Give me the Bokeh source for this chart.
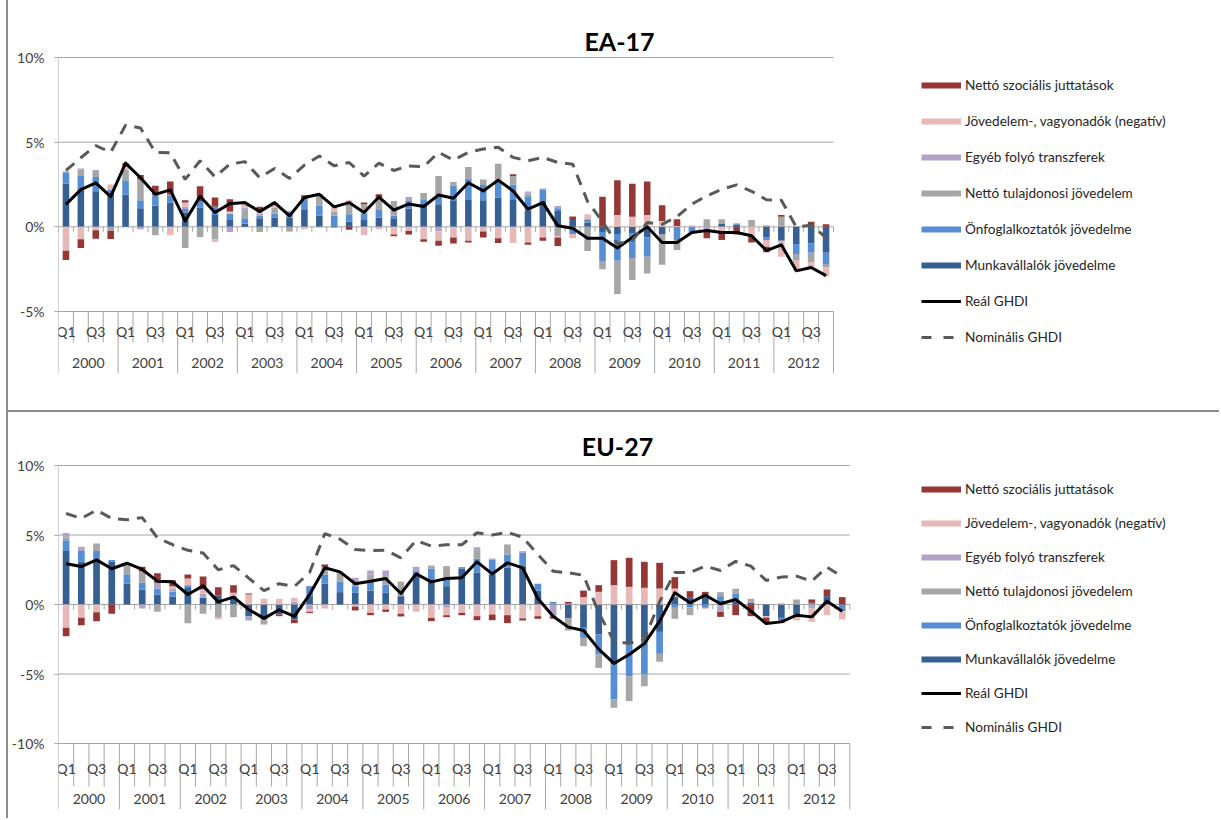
import numpy as np
from bokeh.plotting import figure
from bokeh.layouts import column
from bokeh.models import (ColumnDataSource, FixedTicker, Legend, LegendItem,
                          Label, Range1d)
from bokeh.core.properties import value
from bokeh.embed import file_html
from bokeh.resources import INLINE

# ---------------------------------------------------------------- data
years = [str(y) for y in range(2000, 2013)]
quarters = ["Q1", "Q2", "Q3", "Q4"]

component_names = [
    "Munkavállalók jövedelme",
    "Önfoglalkoztatók jövedelme",
    "Nettó tulajdonosi jövedelem",
    "Egyéb folyó transzferek",
    "Jövedelem-, vagyonadók (negatív)",
    "Nettó szociális juttatások",
]
component_colors = ["#376092", "#558ED5", "#A6A6A6", "#B3A2C7", "#E6B9B8", "#953735"]
real_name = "Reál GHDI"
nominal_name = "Nominális GHDI"

# EA-17, contributions in percentage points (2000Q1 .. 2012Q4)
ea_munkavallalok = [2.55, 2.2, 2.1, 2.0, 1.9, 1.1, 1.25, 1.43, 0.84, 1.12, 0.7, 0.41, 0.2,
                    0.5, 0.55, 0.55, 1.0, 0.65, 0.05, 0.3, 0.45, 0.55, 0.5, 1.08, 1.35, 1.33,
                    1.53, 1.63, 1.57, 1.72, 1.63, 0.98, 1.53, 0.94, 0.41, 0.25, -0.3, -0.43,
                    -0.4, -0.63, -0.43, 0.0, 0.0, 0.0, 0.2, 0.12, 0.0, -0.63, -0.82, -1.02,
                    -0.98, -1.53]
ea_onfoglalkoztatok = [0.68, 0.8, 0.85, 0.2, 0.85, 0.47, 0.57, 0.43, 0.22, 0.41, 0.5, 0.37,
                       0.3, 0.15, 0.23, 0.35, 0.63, 0.6, 0.6, 0.45, 0.33, 0.49, 0.15, 0.45,
                       0.28, 0.55, 0.9, 1.23, 0.9, 0.98, 0.87, 0.82, 0.65, 0.16, -0.43, 0.2,
                       -1.76, -1.57, -1.44, -1.13, 0.0, -0.78, -0.4, 0.0, 0.0, 0.08, 0.0,
                       -0.15, 0.0, -0.58, -0.55, -0.67]
ea_tulajdonosi = [0.0, 0.4, 0.35, -0.25, 0.55, 1.23, -0.5, 0.0, -1.25, -0.6, -0.75, 0.0,
                  0.54, -0.3, 0.36, -0.25, 0.0, 0.57, 0.25, 0.58, 0.55, 0.69, 0.88, 0.0,
                  0.37, 1.12, 0.22, 0.67, 0.33, 1.02, 0.5, 0.16, 0.0, -0.55, 0.0, -1.42,
                  -0.44, -1.96, -1.3, -0.99, -1.81, -0.59, 0.0, 0.45, 0.25, 0.0, 0.4, 0.1,
                  0.6, -0.4, -0.57, -0.2]
ea_egyeb = [0.05, 0.05, 0.05, 0.0, 0.05, -0.15, 0.05, 0.05, 0.12, 0.0, 0.0, -0.3, 0.1,
            0.13, 0.0, 0.05, 0.0, 0.0, -0.07, 0.0, 0.0, 0.0, 0.0, 0.23, 0.0, -0.27, 0.0,
            0.0, 0.0, 0.0, 0.0, 0.12, 0.09, 0.13, 0.0, 0.0, 0.0, 0.0, 0.0, 0.0, 0.0, 0.0,
            0.0, -0.25, 0.0, 0.0, 0.0, 0.0, 0.0, 0.0, 0.0, 0.0]
ea_adok = [-1.41, -0.73, -0.2, 0.3, 0.2, 0.0, 0.0, -0.5, 0.25, 0.0, -0.15, 0.12, 0.29,
           0.2, 0.29, -0.05, -0.15, -0.05, 0.35, 0.24, -0.5, -0.15, -0.45, -0.25, -0.73,
           -0.55, -0.63, -0.82, -0.27, -0.67, -0.96, -0.92, -0.63, -0.08, -0.24, 0.3, 0.0,
           0.7, 0.6, 0.7, 0.35, 0.05, 0.1, 0.0, -0.25, 0.0, -0.55, -0.4, -0.94, -0.6,
           -0.3, -0.54]
ea_szocialis = [-0.55, -0.52, -0.5, -0.47, 0.2, 0.26, 0.55, 0.77, 0.14, 0.87, 0.53, 0.73,
                0.0, 0.2, 0.0, 0.0, 0.23, 0.1, 0.0, -0.17, 0.1, 0.19, -0.1, -0.2, -0.15,
                -0.3, -0.35, -0.1, -0.36, -0.29, 0.1, -0.14, -0.19, -0.5, 0.2, 0.0, 1.77,
                2.05, 1.95, 1.97, 0.92, 0.4, 0.0, -0.42, -0.53, -0.45, -0.37, -0.32, 0.1,
                0.0, 0.3, 0.15]
ea_real = [1.33, 2.2, 2.6, 1.78, 3.76, 2.9, 1.92, 2.18, 0.35, 1.8, 0.85, 1.37, 1.43, 0.9,
           1.43, 0.65, 1.73, 1.92, 1.18, 1.43, 0.85, 1.76, 0.98, 1.35, 1.2, 1.88, 1.69,
           2.6, 2.12, 2.76, 2.12, 1.04, 1.43, 0.06, -0.08, -0.67, -0.67, -1.25, -0.63,
           0.0, -0.92, -0.92, -0.33, -0.22, -0.33, -0.33, -0.53, -1.4, -1.06, -2.6, -2.4,
           -2.88]
ea_nominal = [3.33, 4.08, 4.8, 4.4, 6.0, 5.84, 4.4, 4.37, 2.8, 3.9, 2.95, 3.7, 3.85, 2.9,
              3.45, 2.86, 3.65, 4.18, 3.6, 3.8, 3.0, 3.76, 3.33, 3.6, 3.55, 4.4, 3.94, 4.4,
              4.6, 4.7, 4.1, 3.9, 4.1, 3.8, 3.7, 1.5, 0.3, -1.0, -0.8, 0.25, 0.15, 0.6,
              1.34, 1.83, 2.22, 2.48, 2.1, 1.6, 1.57, 0.0, 0.1, -0.63]

# EU-27, contributions in percentage points (2000Q1 .. 2012Q4)
eu_munkavallalok = [3.84, 3.07, 3.19, 3.1, 1.5, 1.08, 0.72, 0.58, 1.25, 0.48, 0.67, 0.6,
                    -0.86, -1.08, -0.72, -1.08, 0.6, 1.49, 0.89, 0.84, 1.0, 0.84, 0.6, 2.16,
                    1.73, 1.32, 2.59, 2.28, 2.16, 2.64, 2.76, 1.0, 0.05, -1.0, -1.68, -2.16,
                    -4.32, -2.88, -2.4, -1.97, 0.53, 0.53, 0.48, 0.24, 0.19, 0.12, -0.84,
                    -0.96, -0.72, 0.0, 0.6, 0.0]
eu_onfoglalkoztatok = [0.79, 0.77, 0.65, 0.1, 0.67, 0.48, 0.43, 0.33, 0.14, 0.0, 0.0, 0.0,
                       0.0, 0.0, 0.0, 0.0, 0.72, 0.67, 0.74, 0.48, 0.65, 0.6, 0.0, 0.24,
                       0.86, 0.6, 0.1, 1.03, 1.08, 0.96, 0.96, 0.49, 0.14, 0.0, -0.72,
                       -1.44, -2.51, -2.28, -2.64, -1.58, -0.24, -0.2, -0.24, 0.36, 0.58,
                       0.0, 0.0, -0.19, 0.0, 0.12, 0.0, -0.48]
eu_tulajdonosi = [0.2, 0.0, 0.55, 0.0, 0.75, 0.84, -0.53, 0.0, -1.34, -0.67, -0.96, -0.91,
                  0.0, -0.36, 0.0, 0.0, 0.0, 0.55, 0.72, 0.3, 0.5, 0.6, 1.05, 0.0, 0.21,
                  0.84, 0.0, 0.6, 0.0, 0.72, 0.0, 0.0, 0.0, -0.87, -0.6, -0.96, -0.6,
                  -1.79, -0.84, -0.57, -0.79, -0.57, 0.0, 0.29, 0.36, 0.29, 0.0, 0.0, 0.36,
                  0.0, 0.0, 0.0]
eu_egyeb = [0.32, 0.31, 0.0, 0.0, 0.0, -0.29, 0.41, 0.24, 0.0, 0.31, 0.0, 0.0, -0.29, 0.0,
            0.0, 0.2, -0.36, 0.0, 0.0, 0.3, 0.3, 0.41, 0.0, 0.31, 0.0, -0.24, 0.0, 0.21,
            0.07, 0.0, 0.12, 0.0, -0.85, 0.0, 0.0, 0.0, 0.0, 0.0, 0.0, 0.0, 0.0, 0.0, 0.0,
            -0.53, 0.0, 0.0, 0.0, 0.0, 0.0, -0.29, 0.0, 0.0]
eu_adok = [-1.68, -0.96, -0.55, 0.0, 0.0, 0.0, 0.0, 0.17, 0.48, 0.3, -0.1, 0.24, 0.72,
           0.41, 0.41, 0.28, -0.17, -0.29, 0.0, -0.15, -0.6, -0.36, -0.67, -0.53, -0.96,
           -0.53, -0.6, -0.84, -0.72, -0.77, -1.0, -0.84, 0.0, 0.05, 0.53, 0.91, 1.39,
           1.27, 1.2, 1.15, 0.62, 0.0, -0.07, 0.0, 0.0, 0.0, -0.1, 0.12, -0.43, -0.96,
           -0.77, -0.6]
eu_szocialis = [-0.6, -0.53, -0.65, -0.67, 0.0, 0.31, 0.69, 0.43, 0.29, 0.92, 0.58, 0.55,
                0.07, 0.0, -0.12, -0.26, -0.09, 0.17, 0.0, -0.28, -0.17, -0.17, -0.19,
                0.0, -0.24, -0.14, -0.17, -0.29, -0.41, -0.57, -0.15, -0.19, -0.17, 0.14,
                0.47, 0.48, 1.8, 2.09, 1.87, 1.85, 0.82, 0.43, 0.43, -0.36, -0.77, -0.84,
                -0.4, -0.17, 0.0, 0.24, 0.48, 0.53]
eu_real = [2.93, 2.73, 3.21, 2.57, 2.97, 2.52, 1.68, 1.63, 0.72, 1.34, 0.19, 0.53, -0.36,
           -1.0, -0.38, -0.86, 0.72, 2.64, 2.35, 1.49, 1.68, 1.87, 0.79, 2.2, 1.63, 1.87,
           1.92, 3.07, 2.2, 3.0, 2.64, 0.43, -0.84, -1.63, -1.87, -3.21, -4.24, -3.6,
           -2.81, -1.2, 0.84, 0.12, 0.67, 0.05, 0.36, -0.48, -1.37, -1.25, -0.77, -0.89,
           0.24, -0.48]
eu_nominal = [6.55, 6.19, 6.79, 6.19, 6.1, 6.25, 4.8, 4.3, 3.9, 3.7, 2.5, 2.8, 1.9, 1.0,
              1.5, 1.3, 2.3, 5.1, 4.7, 3.96, 3.88, 3.9, 3.36, 4.6, 4.2, 4.3, 4.3, 5.16,
              5.0, 5.2, 4.84, 3.6, 2.4, 2.28, 2.1, -0.6, -2.64, -2.8, -2.5, 0.2, 2.3, 2.3,
              2.76, 2.45, 3.1, 2.76, 1.73, 1.97, 2.04, 1.68, 2.69, 1.99]

ea_components = [ea_munkavallalok, ea_onfoglalkoztatok, ea_tulajdonosi, ea_egyeb,
                 ea_adok, ea_szocialis]
eu_components = [eu_munkavallalok, eu_onfoglalkoztatok, eu_tulajdonosi, eu_egyeb,
                 eu_adok, eu_szocialis]

# ---------------------------------------------------------------- styling
FONT = "Lato"
TEXT = "#404040"
GRID = "#a6a6a6"
BORDER = "2px solid #8c8c8c"


def make_panel(title, comps, real, nominal, cfg):
    n = len(real)
    xs = np.arange(n) + 0.5
    unit_x = cfg["plot_w"] / n          # pixels per quarter
    unit_y = cfg["plot_h"] / (cfg["ytop"] - cfg["axis_bottom"])   # pixels per point
    frame_w = cfg["w"] - cfg["bl"]
    frame_h = cfg["h"] - cfg["bb"]
    x_end = frame_w / unit_x
    y_end = cfg["ytop"] + cfg["top_gap"] / unit_y
    y_start = cfg["axis_bottom"] - cfg["below_gap"] / unit_y

    p = figure(width=cfg["w"], height=cfg["h"], output_backend="svg",
               toolbar_location=None, x_range=Range1d(0, x_end),
               y_range=Range1d(y_start, y_end), x_axis_location=None,
               min_border_left=cfg["bl"], min_border_right=0,
               min_border_top=0, min_border_bottom=cfg["bb"],
               styles=cfg["styles"])
    p.outline_line_color = None
    p.xgrid.visible = False
    p.ygrid.visible = False

    ticks = cfg["ticks"]
    ax = p.yaxis[0]
    ax.ticker = FixedTicker(ticks=ticks)
    ax.major_label_overrides = {t: f"{t}%" for t in ticks}
    ax.axis_line_color = None
    ax.major_tick_line_color = GRID
    ax.major_tick_out = 4
    ax.major_tick_in = 0
    ax.minor_tick_out = 0
    ax.minor_tick_in = 0
    ax.major_label_standoff = 10
    ax.major_label_text_font = FONT
    ax.major_label_text_font_size = "14px"
    ax.major_label_text_color = TEXT

    # horizontal gridlines across the plotting area only
    p.segment(x0=[0] * len(ticks), y0=ticks, x1=[n] * len(ticks), y1=ticks,
              line_color=GRID, line_width=1)
    # value axis line
    p.segment(x0=[0], y0=[y_start], x1=[0], y1=[cfg["ytop"]], line_color=GRID,
              line_width=1)

    # stacked contributions: positives upward, negatives downward, in series order
    pos = np.zeros(n)
    neg = np.zeros(n)
    for vals, color in zip(comps, component_colors):
        v = np.asarray(vals, dtype=float)
        bottom = np.where(v >= 0, pos, neg)
        top = bottom + v
        pos = np.where(v >= 0, top, pos)
        neg = np.where(v < 0, top, neg)
        src = ColumnDataSource(dict(x=xs, bottom=bottom, top=top))
        p.vbar(x="x", bottom="bottom", top="top", width=0.44, source=src,
               fill_color=color, line_color=None)

    # category axis: ticks on the zero line, separators and two-level labels below
    bounds = np.arange(n + 1)
    p.segment(x0=bounds, y0=np.zeros(n + 1), x1=bounds,
              y1=np.full(n + 1, -5 / unit_y), line_color=GRID, line_width=1)
    is_year = bounds % 4 == 0
    sep_end = np.where(is_year, y_start, cfg["axis_bottom"] - cfg["qsep_gap"] / unit_y)
    p.segment(x0=bounds[1:], y0=np.full(n, cfg["axis_bottom"]), x1=bounds[1:],
              y1=sep_end[1:], line_color=GRID, line_width=1)

    q_idx = [i for i in range(n) if i % 4 in (0, 2)]
    q_y = cfg["axis_bottom"] - cfg["q_gap"] / unit_y
    p.text(x=[xs[i] for i in q_idx], y=[q_y] * len(q_idx),
           text=[quarters[i % 4] for i in q_idx], text_align="center",
           text_baseline="middle", text_font=value(FONT), text_font_size="14px",
           text_color=TEXT)
    yr_y = cfg["axis_bottom"] - cfg["year_gap"] / unit_y
    year_x = [4 * k + 2 for k in range(len(years))]
    p.text(x=year_x, y=[yr_y] * len(years), text=years,
           text_align="center", text_baseline="middle", text_font=value(FONT),
           text_font_size="14px", text_color=TEXT)

    # GHDI lines
    p.line(xs, real, line_color="#000000", line_width=3, line_join="round")
    p.line(xs, nominal, line_color="#595959", line_width=3, line_dash="11 8")

    # legend swatches: line renderers whose points sit outside the visible ranges
    off_x = [-20, -19]
    off_y = [y_start - 50, y_start - 50]
    items = []
    for name, color in reversed(list(zip(component_names, component_colors))):
        r = p.line(x=off_x, y=off_y, line_color=color, line_width=6)
        items.append(LegendItem(label=name, renderers=[r]))
    r_real = p.line(x=off_x, y=off_y, line_color="#000000", line_width=3)
    items.append(LegendItem(label=real_name, renderers=[r_real]))
    r_nom = p.line(x=off_x, y=off_y, line_color="#595959", line_width=3,
                   line_dash="10 12")
    items.append(LegendItem(label=nominal_name, renderers=[r_nom]))
    n_items = len(items)
    leg_h = n_items * 20 + (n_items - 1) * cfg["legend_spacing"]
    leg_x = cfg["legend_left"] - cfg["bl"]
    leg_y = frame_h - (cfg["legend_first"] - 10) - leg_h
    legend = Legend(items=items, location=(leg_x, leg_y), orientation="vertical",
                    glyph_width=40, glyph_height=20, label_height=20,
                    spacing=cfg["legend_spacing"], padding=0, margin=0,
                    label_standoff=4, border_line_color=None,
                    background_fill_alpha=0, label_text_font=FONT,
                    label_text_font_size="13.6px", label_text_color="#262626")
    p.add_layout(legend)

    p.add_layout(Label(x=cfg["title_x"] - cfg["bl"], y=frame_h - cfg["title_y"],
                       x_units="screen", y_units="screen", text=title,
                       text_align="center", text_baseline="middle", text_font=FONT,
                       text_font_size="25px", text_font_style="bold",
                       text_color="#000000"))
    return p


# pixel geometry is given in canvas coordinates of each panel
top_cfg = dict(w=1213, h=412, bl=47, bb=39, plot_w=777, plot_h=254,
               ytop=10, axis_bottom=-5, ticks=[-5, 0, 5, 10],
               top_gap=57, below_gap=62, qsep_gap=31, q_gap=20, year_gap=51,
               legend_left=910, legend_first=85, legend_spacing=16,
               title_x=608, title_y=40,
               styles={"margin-left": "6px", "border-left": BORDER,
                       "border-bottom": BORDER})
bottom_cfg = dict(w=1213, h=406, bl=49, bb=9, plot_w=792, plot_h=278,
                  ytop=10, axis_bottom=-10, ticks=[-10, -5, 0, 5, 10],
                  top_gap=53, below_gap=66, qsep_gap=43, q_gap=25, year_gap=55,
                  legend_left=912, legend_first=77, legend_spacing=14,
                  title_x=608, title_y=33,
                  styles={"margin-left": "6px", "border-left": BORDER})

p_ea = make_panel("EA-17", ea_components, ea_real, ea_nominal, top_cfg)
p_eu = make_panel("EU-27", eu_components, eu_real, eu_nominal, bottom_cfg)

layout = column(p_ea, p_eu, spacing=0)
open("out.html", "w").write(file_html(layout, INLINE))
